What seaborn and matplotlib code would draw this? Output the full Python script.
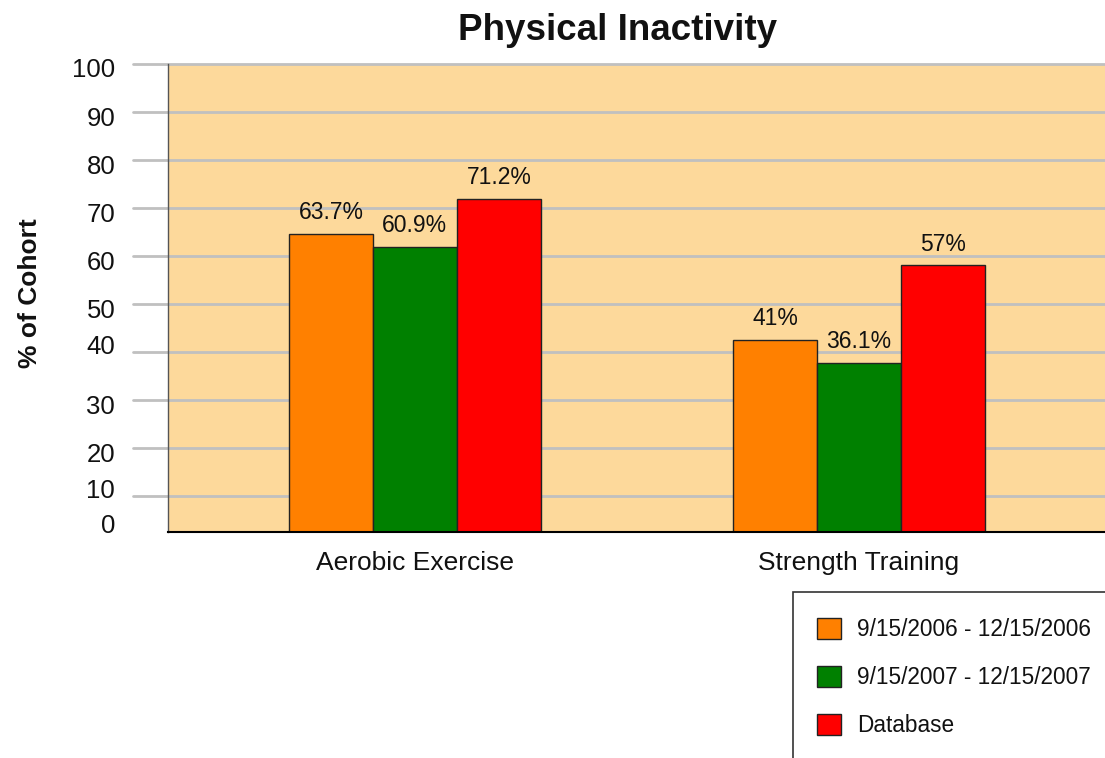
import matplotlib
matplotlib.use("Agg")
import matplotlib.pyplot as plt
import seaborn as sns
import pandas as pd
from matplotlib.patches import Rectangle, Patch

categories = ["Aerobic Exercise", "Strength Training"]
series = ["9/15/2006 - 12/15/2006", "9/15/2007 - 12/15/2007", "Database"]
values_2006 = [63.7, 41.0]
values_2007 = [60.9, 36.1]
values_db = [71.2, 57.0]
colors = ["#FF8000", "#008000", "#FF0000"]
ytick_labels = ["0", "10", "20", "30", "40", "50", "60", "70", "80", "90", "100"]
ytick_pos = [1.9, 9.3, 16.9, 27.3, 40.1, 47.8, 58.0, 68.2, 78.6, 88.7, 99.3]
grid_vals = [100 - 10.256 * k for k in range(10)]

rows = []
for s, vals in zip(series, [values_2006, values_2007, values_db]):
    for c, v in zip(categories, vals):
        rows.append({"category": c, "series": s, "value": v})
df = pd.DataFrame(rows)

sns.set_theme(style="white")
plt.rcParams["font.family"] = ["Liberation Sans", "DejaVu Sans"]

fig = plt.figure(figsize=(11.05, 7.58), dpi=100)
W, H = 1105, 758
ax = fig.add_axes([168 / W, 1 - 532 / H, 937 / W, 468 / H])
ax.set_facecolor("#FDD99B")

sns.barplot(data=df, x="category", y="value", hue="series", order=categories,
            hue_order=series, palette=colors, saturation=1, width=0.5676,
            edgecolor="#222222", linewidth=1, ax=ax, legend=False, zorder=3)

for g in grid_vals:
    ax.axhline(g, xmin=-35 / 937, xmax=1, color="#C0C0C0", lw=2, zorder=1, clip_on=False)

for cont in ax.containers:
    ax.bar_label(cont, labels=[f"{v:g}%" for v in cont.datavalues], padding=7,
                 fontsize=16.5, color="#111111")

ax.set_xlim(-0.556, 1.554)
ax.set_ylim(0, 100)
ax.set_yticks(ytick_pos)
ax.set_yticklabels(ytick_labels)
ax.tick_params(axis="y", length=0, pad=38, labelsize=18.5, labelcolor="#111111")
ax.tick_params(axis="x", length=0, pad=14, labelsize=19, labelcolor="#111111")
ax.set_xlabel("")
ax.set_ylabel("")
for sp in ["top", "right"]:
    ax.spines[sp].set_visible(False)
ax.spines["left"].set_color("#555555")
ax.spines["left"].set_linewidth(1)
ax.spines["bottom"].set_color("#000000")
ax.spines["bottom"].set_linewidth(1.5)
ax.spines["left"].set_zorder(4)
ax.spines["bottom"].set_zorder(4)

fig.text(618 / W, 1 - 31 / H, "Physical Inactivity", ha="center", va="center",
         fontsize=26.5, fontweight="bold", color="#111111")
fig.text(30 / W, 1 - 293 / H, "% of Cohort", ha="center", va="center",
         rotation=90, fontsize=19, fontweight="bold", color="#111111")

# legend
fig.patches.append(Rectangle((793 / W, -0.05), 0.5, 1 - 592 / H + 0.05,
                             transform=fig.transFigure, facecolor="white",
                             edgecolor="#333333", lw=1.2, zorder=0))
handles = [Patch(facecolor=c, edgecolor="#222222", lw=1) for c in colors]
leg = fig.legend(handles, series, loc="upper left",
                 bbox_to_anchor=(817 / W, 1 - 618 / H), frameon=False, fontsize=16.3,
                 handlelength=1.05, handleheight=1.05, labelspacing=1.1,
                 handletextpad=0.72, borderpad=0, borderaxespad=0)
for t in leg.get_texts():
    t.set_color("#111111")

fig.savefig("out.png", dpi=100)
